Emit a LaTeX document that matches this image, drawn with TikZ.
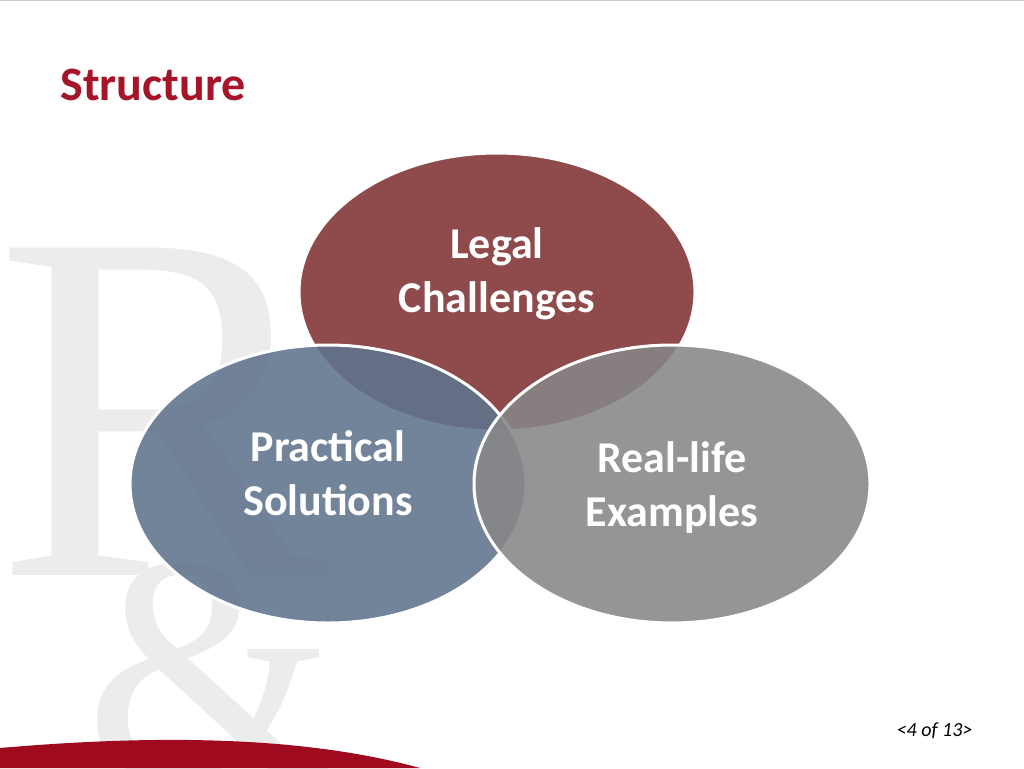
\documentclass[tikz,border=0pt]{standalone}
\usepackage{fontspec}
\setmainfont{Carlito}
\newfontfamily\serifwm{Liberation Serif}
\usetikzlibrary{shapes.geometric,shadows}
\definecolor{titlered}{RGB}{165,20,40}
\definecolor{ctop}{RGB}{128,50,52}
\definecolor{cleft}{RGB}{95,115,140}
\definecolor{cright}{RGB}{135,135,135}
\definecolor{wm}{RGB}{236,236,236}
\definecolor{barred}{RGB}{160,10,30}
\tikzset{
  venn/.style={ellipse, draw=white, line width=3pt, minimum width=396pt, minimum height=278pt, fill opacity=0.88},
  lbl/.style={text=white, font=\bfseries\fontsize{44}{54}\selectfont, align=center},
}
\begin{document}
\begin{tikzpicture}[x=1pt,y=-1pt]
\useasboundingbox (0,0) rectangle (1024,768);
\fill[white] (0,0) rectangle (1024,768);
\draw[gray!40] (0,0.5) -- (1024,0.5);
% watermark
\node[text=wm, font=\serifwm\fontsize{500}{500}\selectfont, anchor=base west, inner sep=0] (wmR) at (-5,575) {R};
\node[text=wm, font=\serifwm\fontsize{320}{320}\selectfont, anchor=base west, inner sep=0] (wmA) at (85,775) {\&};
% bottom bar
\fill[barred] (0,768) -- (0,748) .. controls (150,735) and (300,735) .. (420,768) -- cycle;
% title
\node[text=titlered, font=\bfseries\fontsize{48}{56}\selectfont, anchor=base west] (title) at (57,100) {Structure};
% ellipses
\node[venn, fill=ctop] (top) at (497,292) {};
\node[venn, fill=cleft] (left) at (328,484) {};
\node[venn, fill=cright] (right) at (672,484) {};
\node[lbl] (tl) at (497,274) {Legal\\Challenges};
\node[lbl] (ll) at (328,473) {Practical\\Solutions};
\node[lbl] (rl) at (672,488) {Real-life\\Examples};
\node[font=\itshape\fontsize{20}{22}\selectfont, anchor=base east] (pg) at (976,736) {<4 of 13>};
\end{tikzpicture}
\end{document}
